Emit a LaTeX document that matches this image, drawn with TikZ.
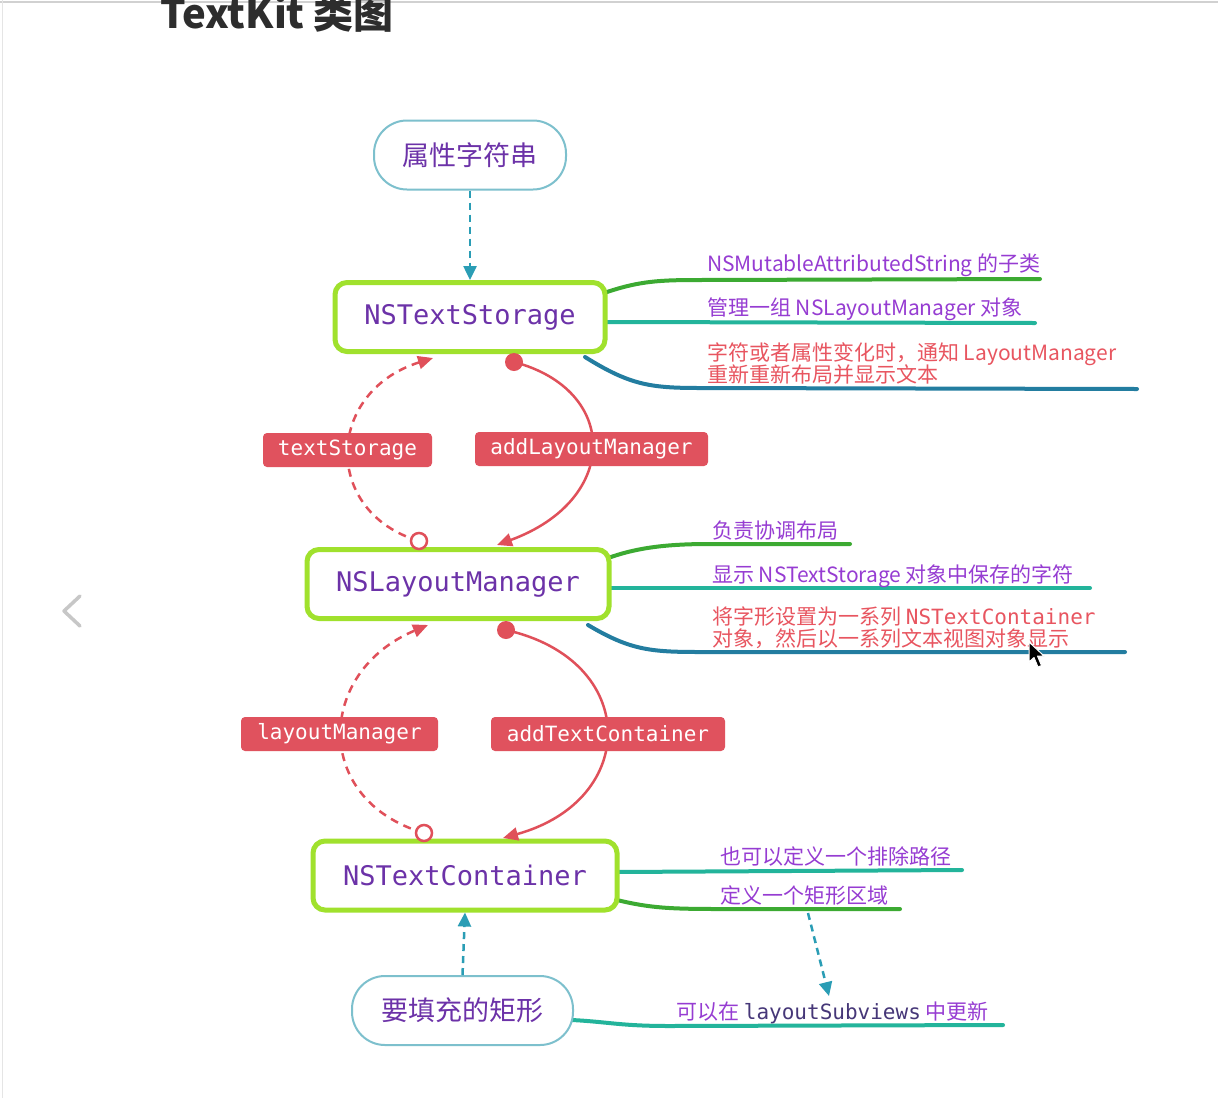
\documentclass[tikz,border=0pt]{standalone}
\usepackage{fontspec}
\newfontfamily\cjk{Noto Sans CJK SC}
\newfontfamily\mono{DejaVu Sans Mono}
\usetikzlibrary{arrows.meta}
\definecolor{boxgreen}{RGB}{160,225,45}
\definecolor{pillblue}{RGB}{125,192,205}
\definecolor{nodepurple}{RGB}{108,50,168}
\definecolor{notepurple}{RGB}{150,60,210}
\definecolor{notered}{RGB}{232,85,96}
\definecolor{curvered}{RGB}{224,80,90}
\definecolor{labelred}{RGB}{224,82,94}
\definecolor{arrowteal}{RGB}{42,157,181}
\definecolor{lgreen}{RGB}{60,170,50}
\definecolor{lteal}{RGB}{35,180,155}
\definecolor{lblue}{RGB}{35,125,160}
\definecolor{titlegray}{RGB}{45,45,45}
\definecolor{darkpurple}{RGB}{70,55,120}
\begin{document}
\begin{tikzpicture}[x=1pt,y=-1pt,
  mainbox/.style={draw=boxgreen, line width=5pt, rounded corners=12pt, fill=white, inner sep=0pt,
    font=\mono\fontsize{27}{30}\selectfont, text=nodepurple, minimum height=69pt},
  pill/.style={draw=pillblue, line width=2pt, rounded corners=33pt, fill=white, inner sep=0pt,
    font=\cjk\fontsize{27}{30}\selectfont, text=nodepurple, minimum height=69pt},
  redlabel/.style={fill=labelred, rounded corners=4pt, text=white, inner sep=0pt,
    font=\mono\fontsize{21}{24}\selectfont, minimum height=34pt},
  note/.style={anchor=base west, inner sep=0pt, font=\cjk\fontsize{21}{23}\selectfont, text=notepurple},
  rednote/.style={note, text=notered},
  relcurve/.style={draw=curvered, line width=2.5pt},
  reldash/.style={relcurve, dash pattern=on 8pt off 6pt},
  redtip/.style={-{Triangle[length=15pt,width=13pt]}},
  tealdash/.style={draw=arrowteal, line width=2.5pt, dash pattern=on 7pt off 5pt, -{Triangle[length=14pt,width=13pt]}},
  branch/.style={line width=4pt, line cap=round},
  fdot/.style={circle, fill=curvered, minimum size=18pt, inner sep=0pt},
  odot/.style={circle, draw=curvered, line width=2.5pt, fill=white, minimum size=16pt, inner sep=0pt}
]
\useasboundingbox (0,0) rectangle (1218,1098);
\fill[white] (0,0) rectangle (1218,1098);
\draw[line width=2pt, draw=black!18] (0,1.5) -- (1218,1.5);
\draw[line width=1pt, draw=black!10] (2.5,0) -- (2.5,1098);

% title
\node[anchor=base west, inner sep=0pt, font=\cjk\bfseries\fontsize{40}{44}\selectfont, text=titlegray] (title) at (160,28) {TextKit 类图};

% left chevron
\draw[line width=3.5pt, draw=black!22, line cap=round, line join=round] (80,596) -- (64,611) -- (80,626);

% branch coordinates
\coordinate (b1s) at (607,292); \coordinate (b1e) at (1040,279);
\coordinate (b2s) at (605,322); \coordinate (b2e) at (1035,323);
\coordinate (b3s) at (585,357); \coordinate (b3e) at (1137,389);
\coordinate (b4s) at (611,557); \coordinate (b4e) at (850,544);
\coordinate (b5s) at (609,588); \coordinate (b5e) at (1090,588);
\coordinate (b6s) at (588,625); \coordinate (b6e) at (1125,652);
\coordinate (b7s) at (617,872); \coordinate (b7e) at (962,870);
\coordinate (b8s) at (617,900); \coordinate (b8e) at (900,909);
\coordinate (b9s) at (572,1020); \coordinate (b9e) at (1003,1025);

% branches (behind boxes)
\draw[branch, draw=lgreen] (b1s) .. controls (640,281) and (660,280) .. (700,280) -- (b1e);
\draw[branch, draw=lteal] (b2s) -- (b2e);
\draw[branch, draw=lblue] (b3s) .. controls (630,385) and (650,388) .. (700,388) -- (b3e);
\draw[branch, draw=lgreen] (b4s) .. controls (640,547) and (670,544) .. (710,544) -- (b4e);
\draw[branch, draw=lteal] (b5s) -- (b5e);
\draw[branch, draw=lblue] (b6s) .. controls (630,650) and (650,652) .. (700,652) -- (b6e);
\draw[branch, draw=lteal] (b7s) -- (b7e);
\draw[branch, draw=lgreen] (b8s) .. controls (650,908) and (670,909) .. (720,909) -- (b8e);
\draw[branch, draw=lteal] (b9s) .. controls (610,1022) and (620,1026) .. (670,1026) -- (b9e);

% main nodes
\node[pill, minimum width=192pt] (attr) at (470,155) {属性字符串};
\node[mainbox, minimum width=270pt] (ts) at (470,317) {NSTextStorage};
\node[mainbox, minimum width=302pt] (lm) at (458,584) {NSLayoutManager};
\node[mainbox, minimum width=304pt] (tc) at (465,875.5) {NSTextContainer};
\node[pill, minimum width=221pt] (rect) at (462.5,1010.5) {要填充的矩形};

% teal dashed arrows
\draw[tealdash] (attr.south) -- (ts.north);
\draw[tealdash] (rect.north) -- (tc.south);
\coordinate (upd1) at (808,913); \coordinate (upd2) at (829,996);
\draw[tealdash] (upd1) -- (upd2);

% red relations
\coordinate (tsdot) at (514,362);
\coordinate (lmtip) at (497,545);
\coordinate (lmcirc) at (419,541);
\coordinate (tstip) at (433,358);
\coordinate (lmdot) at (506,630);
\coordinate (tctip) at (503,838);
\coordinate (tccirc) at (424,833);
\coordinate (lmtip2) at (428,625);

\draw[relcurve, redtip] (tsdot) .. controls (620,390) and (620,500) .. (lmtip);
\draw[reldash, redtip] (lmcirc) .. controls (322,512) and (325,392) .. (tstip);
\draw[relcurve, redtip] (lmdot) .. controls (640,660) and (640,800) .. (tctip);
\draw[reldash, redtip] (tccirc) .. controls (312,800) and (316,672) .. (lmtip2);

\node[fdot] (d1) at (tsdot) {};
\node[fdot] (d2) at (lmdot) {};
\node[odot] (c1) at (lmcirc) {};
\node[odot] (c2) at (tccirc) {};

\node[redlabel, minimum width=169pt] (l1) at (347.5,450) {textStorage};
\node[redlabel, minimum width=233pt] (l2) at (591.5,449) {addLayoutManager};
\node[redlabel, minimum width=197pt] (l3) at (339.5,734) {layoutManager};
\node[redlabel, minimum width=234pt] (l4) at (608,734) {addTextContainer};

% notes
\node[note] (n1) at (707,271) {NSMutableAttributedString 的子类};
\node[note] (n2) at (707,315) {管理一组 NSLayoutManager 对象};
\node[rednote] (n3a) at (707,360) {字符或者属性变化时，通知 LayoutManager};
\node[rednote] (n3b) at (707,382) {重新重新布局并显示文本};
\node[note] (n4) at (712,538) {负责协调布局};
\node[note] (n5) at (712,582) {显示 NSTextStorage 对象中保存的字符};
\node[rednote] (n6a) at (712,624) {将字形设置为一系列 {\mono NSTextContainer}};
\node[rednote] (n6b) at (712,646) {对象，然后以一系列文本视图对象显示};
\node[note] (n7) at (720,864) {也可以定义一个排除路径};
\node[note] (n8) at (720,903) {定义一个矩形区域};
\node[note] (n9) at (676,1019) {可以在 {\mono\color{darkpurple}layoutSubviews} 中更新};

% mouse cursor
\filldraw[fill=black, draw=white, line width=1pt, line join=round]
  (1029,642) -- (1029,662) -- (1034,657.5) -- (1038,667) -- (1041.5,665.5) -- (1037.5,656) -- (1044,656) -- cycle;
\end{tikzpicture}
\end{document}
